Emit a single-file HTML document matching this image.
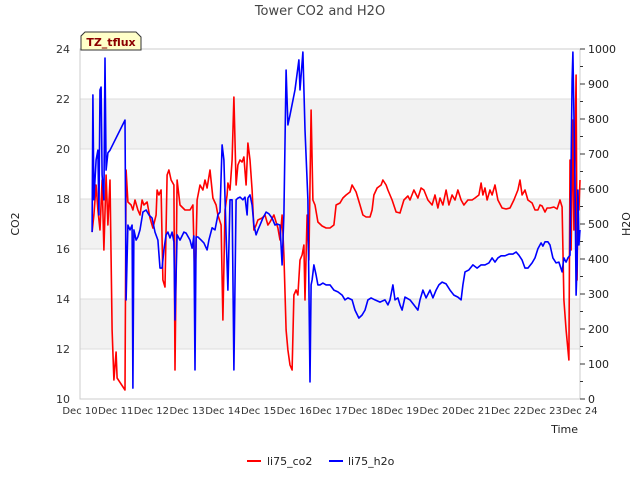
<!DOCTYPE html>
<html><head><meta charset="utf-8"><style>
body{margin:0;background:#fff;}
svg{display:block;font-family:"DejaVu Sans","Liberation Sans",sans-serif;}
</style></head><body>
<svg id="chart" width="640" height="480" xmlns="http://www.w3.org/2000/svg">
<text x="320" y="15" text-anchor="middle" font-size="13" fill="#444">Tower CO2 and H2O</text>
<g id="bands"></g>
<rect x="80" y="49" width="500" height="350" fill="none" stroke="#ccc"/>
<g id="axes"></g>
<g id="series"></g>
<g>
<path d="M85,32 L136,32 L141,37 L141,50 L81,50 L81,36 Z" fill="#ffffc8" stroke="#333" stroke-width="1"/>
<text x="111" y="46" text-anchor="middle" font-size="11" font-weight="bold" fill="#8b0000">TZ_tflux</text>
</g>
<text transform="translate(19,224) rotate(-90)" text-anchor="middle" font-size="11" fill="#222">CO2</text>
<text transform="translate(630,224) rotate(-90)" text-anchor="middle" font-size="11" fill="#222">H2O</text>
<text x="578" y="433" text-anchor="end" font-size="11" fill="#222">Time</text>
<g>
<g><line x1="247" y1="461" x2="261" y2="461" stroke="#f00" stroke-width="2"/><text x="267" y="465" font-size="11" fill="#222">li75_co2</text></g>
<g><line x1="329" y1="461" x2="343" y2="461" stroke="#00f" stroke-width="2"/><text x="348" y="465" font-size="11" fill="#222">li75_h2o</text></g>
</g>
</svg>
<script>
const xTickLabels=["Dec 10","Dec 11","Dec 12","Dec 13","Dec 14","Dec 15","Dec 16","Dec 17","Dec 18","Dec 19","Dec 20","Dec 21","Dec 22","Dec 23","Dec 24"];
const co2Ticks=[10,12,14,16,18,20,22,24];
const h2oTicks=[0,100,200,300,400,500,600,700,800,900,1000];
const co2Days=[0.34,0.39,0.45,0.50,0.56,0.62,0.67,0.73,0.78,0.84,0.90,0.95,1.01,1.04,1.26,1.29,1.34,1.43,1.48,1.54,1.62,1.68,1.74,1.79,1.88,1.96,2.04,2.13,2.16,2.21,2.27,2.32,2.38,2.44,2.49,2.55,2.63,2.66,2.72,2.80,2.94,3.08,3.16,3.22,3.28,3.36,3.44,3.50,3.56,3.64,3.72,3.81,3.86,3.95,4.00,4.06,4.12,4.14,4.20,4.26,4.31,4.37,4.42,4.48,4.54,4.59,4.65,4.70,4.76,4.82,4.87,4.93,4.98,5.10,5.18,5.26,5.32,5.43,5.54,5.60,5.66,5.71,5.77,5.82,5.88,5.94,5.99,6.05,6.10,6.16,6.22,6.27,6.30,6.36,6.41,6.47,6.52,6.58,6.66,6.78,6.89,7.00,7.11,7.17,7.28,7.36,7.45,7.56,7.62,7.73,7.84,7.92,8.01,8.12,8.18,8.23,8.32,8.43,8.48,8.57,8.62,8.74,8.85,8.96,9.07,9.18,9.24,9.35,9.46,9.55,9.63,9.74,9.86,9.94,10.02,10.08,10.16,10.25,10.33,10.42,10.50,10.58,10.67,10.75,10.86,10.98,11.06,11.17,11.23,11.28,11.34,11.40,11.48,11.54,11.62,11.70,11.82,11.93,12.04,12.15,12.26,12.32,12.38,12.46,12.54,12.66,12.74,12.82,12.88,12.94,13.02,13.08,13.16,13.27,13.36,13.44,13.50,13.55,13.61,13.69,13.72,13.75,13.80,13.83,13.89,13.92,13.94,13.97,14.00];
const co2Values=[16.68,17.36,18.56,17.56,16.76,18.76,15.96,18.96,16.96,18.76,12.76,10.76,11.88,10.84,10.36,19.16,17.88,17.76,17.56,17.96,17.56,17.36,17.96,17.76,17.88,17.24,16.84,17.36,18.36,18.16,18.36,14.76,14.48,18.96,19.16,18.76,18.56,11.16,18.76,17.76,17.56,17.56,17.76,14.36,17.96,18.56,18.36,18.76,18.44,19.16,18.04,17.76,17.36,16.96,13.16,17.56,18.16,18.64,18.36,19.56,22.08,18.56,19.36,19.56,19.48,19.68,18.56,20.24,19.56,18.36,16.76,16.96,17.16,17.24,17.36,16.96,17.08,17.36,16.84,16.36,17.36,15.76,12.76,11.96,11.36,11.16,14.16,14.36,14.16,15.56,15.76,16.16,13.96,17.36,15.56,21.56,17.96,17.76,17.08,16.92,16.84,16.84,16.96,17.76,17.84,18.04,18.16,18.28,18.56,18.28,17.76,17.36,17.28,17.28,17.56,18.16,18.44,18.56,18.76,18.56,18.36,17.96,17.48,17.44,17.96,18.12,17.96,18.36,18.04,18.44,18.36,17.96,17.76,18.16,17.64,18.04,17.76,18.36,17.76,18.16,17.96,18.36,17.96,17.76,17.96,17.96,18.04,18.16,18.64,18.16,18.44,17.96,18.36,18.16,18.56,17.96,17.64,17.60,17.64,17.96,18.36,18.76,18.16,18.36,17.96,17.84,17.56,17.56,17.76,17.72,17.48,17.64,17.64,17.68,17.60,17.96,17.68,13.96,12.76,11.56,19.56,15.96,21.16,16.76,22.96,14.76,17.96,17.56,18.76];
const h2oDays=[0.34,0.36,0.39,0.45,0.50,0.53,0.56,0.59,0.62,0.67,0.70,0.73,0.78,0.84,1.26,1.29,1.34,1.40,1.46,1.48,1.51,1.57,1.62,1.68,1.76,1.85,1.93,2.02,2.10,2.18,2.24,2.30,2.35,2.41,2.46,2.52,2.58,2.63,2.66,2.72,2.80,2.91,2.97,3.08,3.14,3.19,3.22,3.25,3.30,3.39,3.47,3.56,3.61,3.70,3.78,3.86,3.92,3.98,4.03,4.09,4.14,4.20,4.26,4.31,4.37,4.42,4.48,4.56,4.62,4.68,4.70,4.76,4.82,4.87,4.93,4.98,5.04,5.12,5.21,5.29,5.38,5.46,5.52,5.60,5.66,5.71,5.77,5.82,5.88,6.02,6.13,6.16,6.24,6.30,6.38,6.44,6.47,6.50,6.55,6.61,6.66,6.72,6.80,6.89,7.00,7.11,7.22,7.34,7.42,7.50,7.62,7.70,7.81,7.90,7.98,8.06,8.15,8.26,8.40,8.54,8.62,8.68,8.76,8.82,8.90,8.96,9.02,9.10,9.24,9.35,9.46,9.52,9.60,9.69,9.80,9.88,9.97,10.05,10.14,10.25,10.36,10.47,10.58,10.67,10.72,10.78,10.89,11.00,11.12,11.23,11.34,11.45,11.54,11.62,11.70,11.79,11.90,12.01,12.12,12.21,12.29,12.38,12.46,12.54,12.66,12.74,12.82,12.91,12.96,13.02,13.10,13.16,13.24,13.33,13.41,13.50,13.55,13.61,13.66,13.72,13.78,13.80,13.86,13.89,13.92,13.94,13.97,14.00];
const h2oValues=[477,869,569,683,711,526,883,891,640,569,974,654,703,711,797,283,497,483,497,31,483,454,463,483,534,540,526,517,477,454,374,374,426,469,477,460,477,449,226,469,454,477,474,454,431,466,83,463,463,454,446,426,454,489,483,526,534,726,683,469,311,569,569,83,569,574,577,569,577,526,574,583,554,497,469,483,497,517,534,529,517,497,500,497,383,526,940,783,811,883,969,883,991,769,569,49,326,340,383,354,326,326,331,326,326,311,306,297,283,289,283,254,231,240,254,283,289,283,277,283,269,283,326,283,289,269,254,291,283,269,254,283,311,289,311,289,311,326,334,329,311,297,291,283,326,363,369,383,374,383,383,389,403,391,403,409,409,414,414,420,411,397,374,374,389,403,429,446,437,449,449,440,403,389,391,363,403,391,403,411,911,991,626,297,383,597,440,483];

const L=80,R=580,T=49,B=399;
const xS=d=>L+(R-L)*d/14;
const yC=v=>B-(B-T)*(v-10)/14;
const yH=v=>B-(B-T)*v/1000;
const NS="http://www.w3.org/2000/svg";
function mk(tag,attrs,parent){const e=document.createElementNS(NS,tag);for(const k in attrs)e.setAttribute(k,attrs[k]);parent.appendChild(e);return e;}
const bands=document.getElementById('bands'),axes=document.getElementById('axes'),series=document.getElementById('series');
for(let i=0;i<co2Ticks.length-1;i++){
  if(i%2===1){const r=mk('rect',{x:L,y:yC(co2Ticks[i+1]),width:R-L,height:yC(co2Ticks[i])-yC(co2Ticks[i+1]),fill:'#f2f2f2'},bands);
  
  }
}
co2Ticks.forEach(v=>{
  const g=mk('line',{x1:L,x2:R,y1:yC(v),y2:yC(v),stroke:'#ddd'},bands);
  
  
  const t=mk('text',{x:L-10,y:yC(v)+4,'text-anchor':'end','font-size':'11',fill:'#333'},axes);t.textContent=v;
  
  
});
h2oTicks.forEach((v,i)=>{
  const tk=mk('line',{x1:R,x2:R+5,y1:yH(v),y2:yH(v),stroke:'#333'},axes);
  
  
  if(i<h2oTicks.length-1){const m=mk('line',{x1:R,x2:R+3,y1:yH(v+50),y2:yH(v+50),stroke:'#333'},axes);
  
  }
  const t=mk('text',{x:R+8,y:yH(v)+4,'font-size':'11',fill:'#222'},axes);t.textContent=v;
  
  
});
xTickLabels.forEach((s,i)=>{
  const t=mk('text',{x:xS(i),y:414,'text-anchor':'middle','font-size':'10',fill:'#333'},axes);t.textContent=s;
  
  
});
const pc=co2Days.map((d,i)=>xS(d).toFixed(1)+','+yC(co2Values[i]).toFixed(1)).join(' ');
const lc=mk('polyline',{points:pc,fill:'none',stroke:'#ff0000','stroke-width':'1.6','stroke-linejoin':'round'},series);


const ph=h2oDays.map((d,i)=>xS(d).toFixed(1)+','+yH(h2oValues[i]).toFixed(1)).join(' ');
const lh=mk('polyline',{points:ph,fill:'none',stroke:'#0000ff','stroke-width':'1.6','stroke-linejoin':'round'},series);


</script>
</body></html>
